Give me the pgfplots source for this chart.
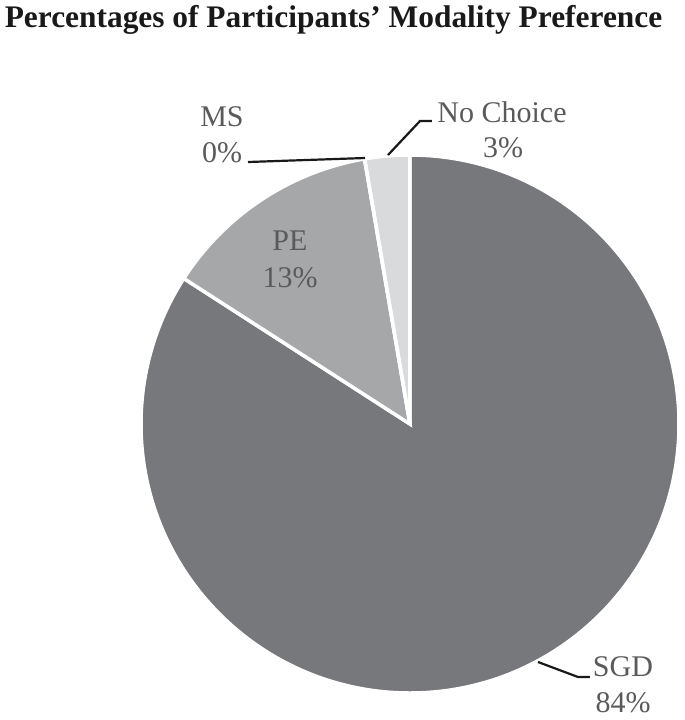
\documentclass[border=0pt]{standalone}
\usepackage{pgfplots}
\pgfplotsset{compat=1.18}
\usepackage{fontspec}
\setmainfont{Liberation Serif}
\definecolor{cSGD}{HTML}{77787B}
\definecolor{cPE}{HTML}{A6A7A9}
\definecolor{cNC}{HTML}{D9DADC}
\definecolor{clab}{HTML}{5A5A5A}
\begin{document}
\begin{tikzpicture}
% percentages (clockwise from the top): SGD, PE, MS, No Choice
\pgfmathsetmacro{\vSGD}{84.1}
\pgfmathsetmacro{\vPE}{13.2}
\pgfmathsetmacro{\vMS}{0.0}
\pgfmathsetmacro{\vNC}{2.7}
\pgfmathsetmacro{\aA}{90}
\pgfmathsetmacro{\aB}{\aA-3.6*\vSGD}
\pgfmathsetmacro{\aC}{\aB-3.6*\vPE}
\pgfmathsetmacro{\aD}{\aC-3.6*\vMS}
\pgfmathsetmacro{\aE}{\aD-3.6*\vNC}
\def\R{134.5pt}
\begin{axis}[
  scale only axis, width=342.5pt, height=360pt,
  xmin=0, xmax=685, ymin=0, ymax=720, y dir=reverse,
  hide axis, clip=false,
]
\path (axis cs:0,0) rectangle (axis cs:685,720);
\fill[cSGD, draw=white, line width=1.75pt] (axis cs:410,424) -- ++(\aA:\R) arc[start angle=\aA, end angle=\aB, radius=\R] -- cycle;
\fill[cPE, draw=white, line width=1.75pt] (axis cs:410,424) -- ++(\aB:\R) arc[start angle=\aB, end angle=\aC, radius=\R] -- cycle;
\fill[cNC, draw=white, line width=1.75pt] (axis cs:410,424) -- ++(\aD:\R) arc[start angle=\aD, end angle=\aE, radius=\R] -- cycle;
\draw[white, line width=1.75pt] (axis cs:410,424) -- ++(\aC:\R);
% leader lines
\draw[black!90, line width=1.1pt] (axis cs:248,162) -- (axis cs:365,158);
\draw[black!90, line width=1.1pt] (axis cs:388,155) -- (axis cs:420,121) -- (axis cs:432,121);
\draw[black!90, line width=1.1pt] (axis cs:538,662) -- (axis cs:578,677) -- (axis cs:590,677);
% title
\node[anchor=base, font=\fontsize{15.7}{18}\selectfont\bfseries, text=black!90, inner sep=0pt] at (axis cs:333.5,27) {Percentages of Participants’ Modality Preference};
% labels
\tikzset{lab/.style={anchor=base, font=\fontsize{15}{18}\selectfont, text=clab, inner sep=0pt}}
\node[lab] at (axis cs:222,126) {MS};
\node[lab] at (axis cs:222,162) {0\%};
\node[lab] at (axis cs:502,122) {No Choice};
\node[lab] at (axis cs:503,157) {3\%};
\node[lab] at (axis cs:290,250) {PE};
\node[lab] at (axis cs:290,287) {13\%};
\node[lab] at (axis cs:623,676) {SGD};
\node[lab] at (axis cs:623,712) {84\%};
\end{axis}
\end{tikzpicture}
\end{document}
